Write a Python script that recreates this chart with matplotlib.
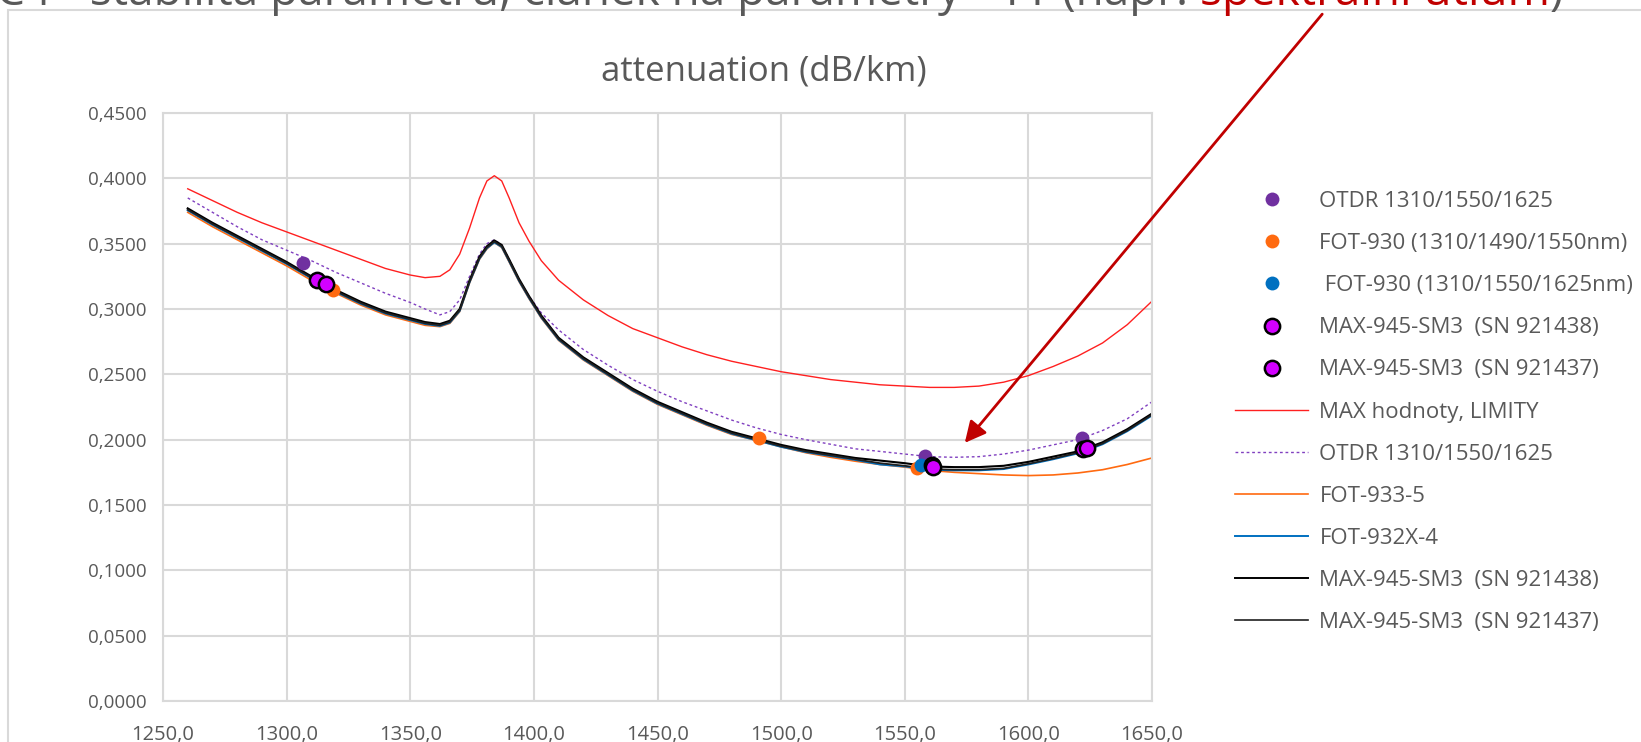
"""
attenuation (dB/km) - spectral attenuation comparison of several instruments
"""

import matplotlib
matplotlib.use('Agg')
import matplotlib.pyplot as plt
import matplotlib.patches as mpatches
from matplotlib.lines import Line2D
from matplotlib.ticker import MultipleLocator, FuncFormatter

plt.rcParams['font.family'] = ['Open Sans', 'DejaVu Sans']

W, H = 1641, 742

# wavelength grid of the measured curves (nm)
wl = [1260, 1270, 1280, 1290, 1300, 1310, 1320, 1330, 1340, 1350, 1356, 1362,
      1366, 1370, 1374, 1378, 1381, 1384, 1387, 1390, 1394, 1398, 1403, 1410,
      1420, 1430, 1440, 1450, 1460, 1470, 1480, 1490, 1500, 1510, 1520, 1530,
      1540, 1550, 1560, 1570, 1580, 1590, 1600, 1610, 1620, 1630, 1640, 1650]

limit_max = [.392, .383, .374, .366, .359, .352, .345, .338, .331, .326, .324, .325,
             .330, .342, .362, .385, .398, .402, .398, .385, .366, .352, .337, .322,
             .307, .295, .285, .278, .271, .265, .260, .256, .252, .249, .246, .244,
             .242, .241, .240, .240, .241, .244, .249, .256, .264, .274, .288, .306]

otdr_line = [.385, .374, .363, .353, .345, .337, .328, .320, .312, .305, .300, .2955,
             .298, .307, .325, .342, .350, .353, .349, .338, .322, .310, .297, .284,
             .269, .257, .246, .237, .229, .222, .215, .209, .204, .200, .1965, .193,
             .191, .189, .187, .1865, .187, .189, .192, .196, .200, .207, .216, .229]

fot933 = [.374, .363, .353, .343, .333, .322, .312, .303, .2955, .2905, .2875, .2865,
          .289, .298, .320, .338, .346, .351, .347, .336, .321, .308, .293, .276,
          .261, .249, .237, .227, .219, .211, .204, .1995, .1945, .190, .1865, .1835,
          .181, .179, .1765, .175, .174, .173, .1725, .173, .1745, .177, .181, .186]

fot932 = [.3755, .3645, .3545, .3445, .3345, .3235, .313, .304, .2965, .2915, .2885, .287,
          .2895, .2985, .3205, .3385, .3465, .351, .3475, .3365, .3215, .3085, .2935, .2765,
          .2615, .2495, .2375, .2275, .2195, .2115, .2045, .1995, .1945, .1905, .1875, .1845,
          .181, .1795, .177, .1765, .1765, .1775, .181, .185, .1895, .1965, .2065, .2185]

max438 = [.377, .366, .356, .346, .336, .325, .3145, .3055, .298, .293, .290, .2885,
          .291, .300, .322, .340, .348, .3525, .349, .338, .323, .310, .295, .278,
          .263, .251, .239, .229, .221, .213, .206, .201, .196, .192, .189, .186,
          .184, .182, .1795, .179, .179, .180, .183, .187, .191, .198, .208, .220]

max437 = [.376, .365, .355, .345, .335, .324, .3135, .3045, .297, .292, .289, .2875,
          .290, .299, .321, .339, .347, .3515, .348, .337, .322, .309, .294, .277,
          .262, .250, .238, .228, .220, .212, .205, .200, .195, .191, .188, .185,
          .182, .180, .1775, .177, .177, .178, .1815, .1855, .190, .197, .207, .219]

# point measurements
otdr_pts_x = [1306.7, 1558.2, 1621.6]
otdr_pts_y = [0.3354, 0.1875, 0.2010]
fot930a_x = [1318.9, 1490.9, 1554.8]
fot930a_y = [0.3145, 0.2009, 0.1780]
fot930b_x = [1556.6]
fot930b_y = [0.1806]
max438_pts_x = [1312.2, 1560.9, 1622.2]
max438_pts_y = [0.3222, 0.1806, 0.1926]
max437_pts_x = [1315.9, 1561.6, 1623.8]
max437_pts_y = [0.3191, 0.1788, 0.1938]

title_text = 'attenuation (dB/km)'
header_gray = 'Č4 - stabilita parametrů, článek na parametry - TT (např. '
header_red = 'spektrální útlum'

gray = '#595959'
gridc = '#D9D9D9'

fig = plt.figure(figsize=(W / 100, H / 100), dpi=100)
ax = fig.add_axes([163 / W, 1 - 701 / H, (1152 - 163) / W, (701 - 113) / H])

# lines
ax.plot(wl, limit_max, color='#FF2020', lw=1.0, zorder=2)
ax.plot(wl, otdr_line, color='#8040C0', lw=1.0, ls=(0, (2, 2)), zorder=2)
ax.plot(wl, fot933, color='#FF6A10', lw=1.2, zorder=2)
ax.plot(wl, fot932, color='#0070C0', lw=1.4, zorder=2)
ax.plot(wl, max438, color='black', lw=1.5, zorder=2)
ax.plot(wl, max437, color='#202020', lw=1.3, zorder=2)

# markers
ax.plot(otdr_pts_x, otdr_pts_y, 'o', color='#7030A0', ms=10, mec='none', zorder=3)
ax.plot(fot930a_x, fot930a_y, 'o', color='#FF6A10', ms=10, mec='none', zorder=3)
ax.plot(fot930b_x, fot930b_y, 'o', color='#0070C0', ms=10, mec='none', zorder=3)
ax.plot(max438_pts_x, max438_pts_y, 'o', color='#D200FF', ms=11, mec='black', mew=1.8, zorder=4)
ax.plot(max437_pts_x, max437_pts_y, 'o', color='#D200FF', ms=11, mec='black', mew=1.8, zorder=4)

ax.set_xlim(1250, 1650)
ax.set_ylim(0, 0.45)
ax.xaxis.set_major_locator(MultipleLocator(50))
ax.yaxis.set_major_locator(MultipleLocator(0.05))
ax.xaxis.set_major_formatter(FuncFormatter(lambda v, p: f'{v:.1f}'.replace('.', ',')))
ax.yaxis.set_major_formatter(FuncFormatter(lambda v, p: f'{v:.4f}'.replace('.', ',')))
ax.tick_params(length=0, colors=gray)
ax.tick_params(axis='y', labelsize=13.5, pad=12)
ax.tick_params(axis='x', labelsize=14.5, pad=17)
ax.grid(True, color=gridc, lw=1.5, zorder=0)
ax.set_axisbelow(True)
for s in ax.spines.values():
    s.set_color(gridc)
    s.set_linewidth(1.5)

# legend
handles = [
    Line2D([], [], ls='none', marker='o', color='#7030A0', ms=10, mec='none'),
    Line2D([], [], ls='none', marker='o', color='#FF6A10', ms=10, mec='none'),
    Line2D([], [], ls='none', marker='o', color='#0070C0', ms=10, mec='none'),
    Line2D([], [], ls='none', marker='o', color='#D200FF', ms=11, mec='black', mew=1.8),
    Line2D([], [], ls='none', marker='o', color='#D200FF', ms=11, mec='black', mew=1.8),
    Line2D([], [], color='#FF2020', lw=1.0),
    Line2D([], [], color='#8040C0', lw=1.0, ls=(0, (2, 2))),
    Line2D([], [], color='#FF6A10', lw=1.2),
    Line2D([], [], color='#0070C0', lw=1.4),
    Line2D([], [], color='black', lw=1.4),
    Line2D([], [], color='#202020', lw=1.2),
]
labels = ['OTDR 1310/1550/1625', 'FOT-930 (1310/1490/1550nm)', ' FOT-930 (1310/1550/1625nm)',
          'MAX-945-SM3  (SN 921438)', 'MAX-945-SM3  (SN 921437)', 'MAX hodnoty, LIMITY',
          'OTDR 1310/1550/1625', 'FOT-933-5', 'FOT-932X-4',
          'MAX-945-SM3  (SN 921438)', 'MAX-945-SM3  (SN 921437)']
leg = fig.legend(handles, labels, loc='upper left', bbox_to_anchor=(1235 / W, 1 - 191 / H),
                 frameon=False, fontsize=16, handlelength=3.3, handletextpad=0.5,
                 labelspacing=0.95, borderpad=0, borderaxespad=0)
for t in leg.get_texts():
    t.set_color(gray)

# title
fig.text(764 / W, 1 - 72 / H, title_text, ha='center', va='center', fontsize=25, color=gray)

# chart frame (light gray box that runs off the right and bottom)
fig.patches.append(mpatches.Rectangle((8 / W, -0.05), 1.2, 1.05 - 10 / H, transform=fig.transFigure,
                                      fill=False, edgecolor=gridc, lw=1.5, zorder=0))

# cut-off slide heading
hs = 33
t1 = fig.text(-4 / W, 1 - 5 / H, header_gray, ha='left', va='baseline', fontsize=hs, color=gray)
fig.canvas.draw()
bb = t1.get_window_extent()
t2 = fig.text(bb.x1 / W, 1 - 5 / H, header_red, ha='left', va='baseline', fontsize=hs, color='#C00000')
fig.canvas.draw()
bb2 = t2.get_window_extent()
fig.text(bb2.x1 / W, 1 - 5 / H, ')', ha='left', va='baseline', fontsize=hs, color=gray)

# red arrow
ax.annotate('', xy=(963, H - 445), xycoords='figure pixels',
            xytext=(1324, H - 12), textcoords='figure pixels',
            arrowprops=dict(arrowstyle='-|>', color='#C00000', lw=2, mutation_scale=32),
            annotation_clip=False)

fig.savefig('out.png', dpi=100)
